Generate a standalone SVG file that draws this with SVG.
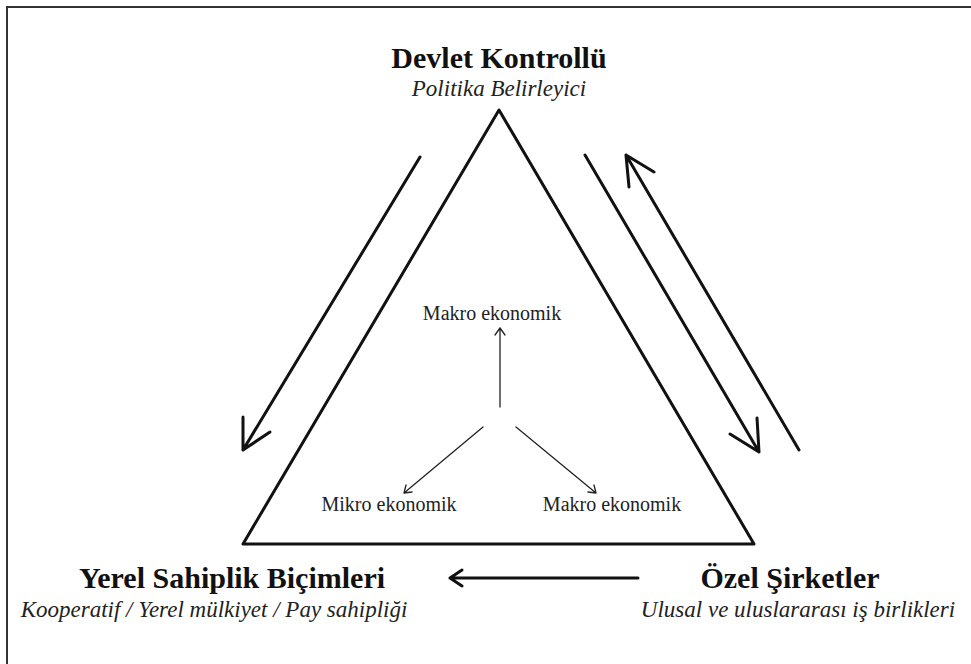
<svg xmlns="http://www.w3.org/2000/svg" width="971" height="664" viewBox="0 0 971 664">
<defs>
<style>
.title{font-family:"Liberation Serif","Times New Roman",serif;font-weight:bold;font-size:30px;fill:#111;text-anchor:middle}
.sub{font-family:"Liberation Serif","Times New Roman",serif;font-style:italic;font-size:23px;fill:#222;text-anchor:middle}
.inner{font-family:"Liberation Serif","Times New Roman",serif;font-size:20px;fill:#222;text-anchor:middle}
.thick{fill:none;stroke:#111;stroke-width:3;stroke-linecap:round;stroke-linejoin:round}
.thin{fill:none;stroke:#222;stroke-width:1.3;stroke-linecap:round;stroke-linejoin:round}
</style>
</defs>
<rect width="971" height="664" fill="#fff"/>
<g id="frame">
<path d="M7 664 V7 H971" fill="none" stroke="#333" stroke-width="2"/>
</g>
<g id="triangle">
<path class="thick" d="M499 110 L243 544 L754 544 Z"/>
</g>
<g id="node-devlet">
<text class="title" x="499" y="68">Devlet Kontrollü</text>
<text class="sub" x="499" y="96">Politika Belirleyici</text>
</g>
<g id="node-yerel">
<text class="title" x="232" y="588">Yerel Sahiplik Biçimleri</text>
<text class="sub" x="214" y="617" font-size="24.5">Kooperatif / Yerel mülkiyet / Pay sahipliği</text>
</g>
<g id="node-ozel">
<text class="title" x="790" y="588" font-size="32">Özel Şirketler</text>
<text class="sub" x="798" y="617" font-size="24.5">Ulusal ve uluslararası iş birlikleri</text>
</g>
<g id="node-makro-top">
<text class="inner" x="492" y="320">Makro ekonomik</text>
</g>
<g id="node-mikro">
<text class="inner" x="389" y="511">Mikro ekonomik</text>
</g>
<g id="node-makro-right">
<text class="inner" x="612" y="511">Makro ekonomik</text>
</g>
<g id="connectors">
<path class="thick" d="M420 157 L243 450 M243 417 L243 450 L270 432"/>
<path class="thick" d="M585 155 L759 452 M757 418 L759 452 L730 434"/>
<path class="thick" d="M799 450 L626 155 M629 187 L626 155 L654 172"/>
<path class="thick" d="M638 578 L450 578 M462 570 L450 578 L462 586"/>
<path class="thin" d="M500 407 L500 328 M495 335 L500 328 L505 335"/>
<path class="thin" d="M483 427 L404 493 M406 485 L404 493 L412 492"/>
<path class="thin" d="M516 427 L596 493 M588 492 L596 493 L594 485"/>
</g>
</svg>
